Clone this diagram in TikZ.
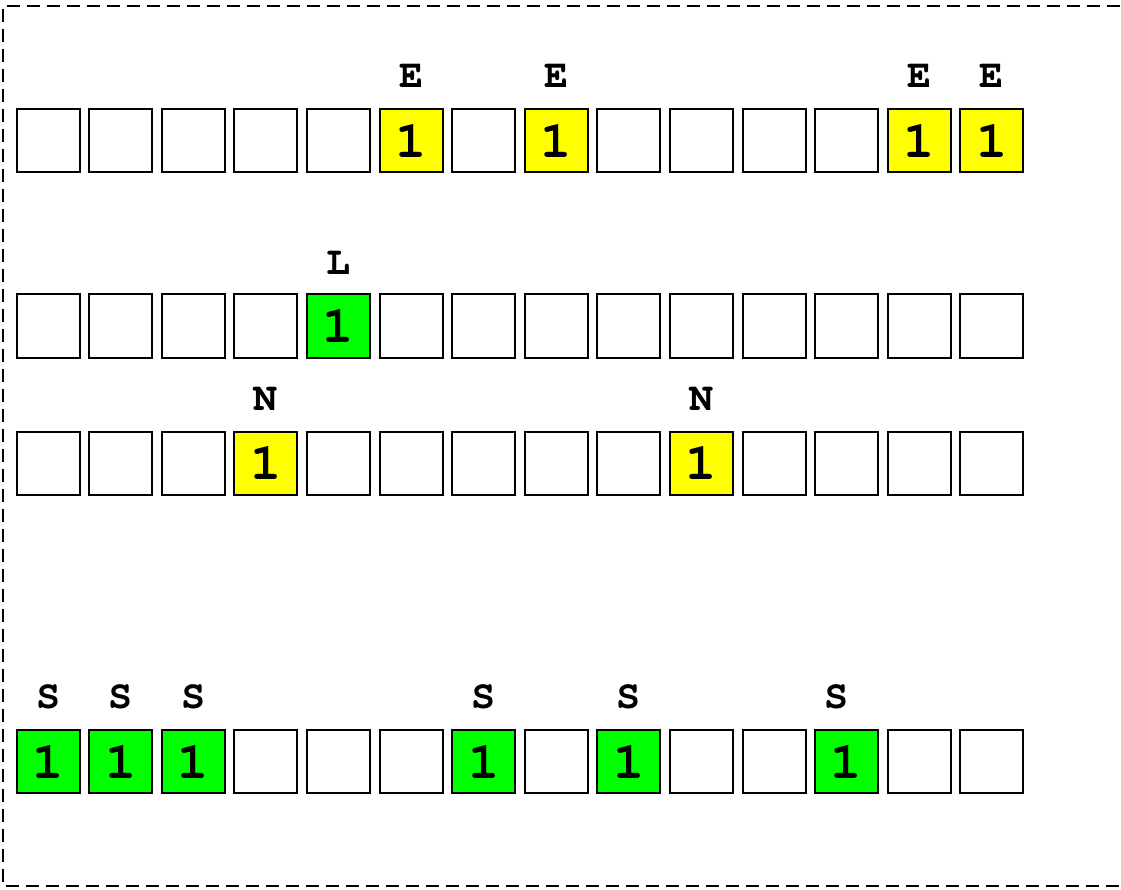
\documentclass[tikz,border=0pt]{standalone}
\usepackage{fontspec}
\newfontfamily\monob{TeX Gyre Cursor}
\definecolor{yel}{RGB}{255,255,0}
\definecolor{grn}{RGB}{0,255,0}
\tikzset{
  cell/.style={draw=black, line width=2pt, minimum width=63pt, minimum height=63pt, inner sep=0pt, fill=white, font=\monob\bfseries\fontsize{52}{52}\selectfont},
  ycell/.style={cell, fill=yel},
  gcell/.style={cell, fill=grn},
  lab/.style={inner sep=0pt, font=\monob\bfseries\fontsize{40}{40}\selectfont},
  frame/.style={draw=black, line width=2pt, dash pattern=on 13pt off 7pt}
}
\begin{document}
\begin{tikzpicture}[x=1pt,y=-1pt]
\useasboundingbox (0,0) rectangle (1121,890);
\draw[frame] (1140,6) -- (3,6) -- (3,886) -- (1140,886);
% row 1
\foreach \i in {0,...,13} {
  \node[cell] (a\i) at ({48.2+72.58*\i},140.7) {};
}
\foreach \i in {5,7,12,13} {
  \node[ycell] (a\i) at ({48.2+72.58*\i},140.7) {1};
  \node[lab] (ea\i) at ({48.2+72.58*\i},76) {E};
}
% row 2
\foreach \i in {0,...,13} {
  \node[cell] (b\i) at ({48.2+72.58*\i},326) {};
}
\node[gcell] (b4) at ({48.2+72.58*4},326) {1};
\node[lab] (lb4) at ({48.2+72.58*4},263) {L};
% row 3
\foreach \i in {0,...,13} {
  \node[cell] (c\i) at ({48.2+72.58*\i},463) {};
}
\foreach \i in {3,9} {
  \node[ycell] (c\i) at ({48.2+72.58*\i},463) {1};
  \node[lab] (nc\i) at ({48.2+72.58*\i},399) {N};
}
% row 4
\foreach \i in {0,...,13} {
  \node[cell] (d\i) at ({48.2+72.58*\i},761.7) {};
}
\foreach \i in {0,1,2,6,8,11} {
  \node[gcell] (d\i) at ({48.2+72.58*\i},761.7) {1};
}
\foreach \i in {0,1,2,6,8} {
  \node[lab] (sd\i) at ({48.2+72.58*\i},697) {S};
}
\node[lab] (sd11) at (836,697) {S};
\end{tikzpicture}
\end{document}
